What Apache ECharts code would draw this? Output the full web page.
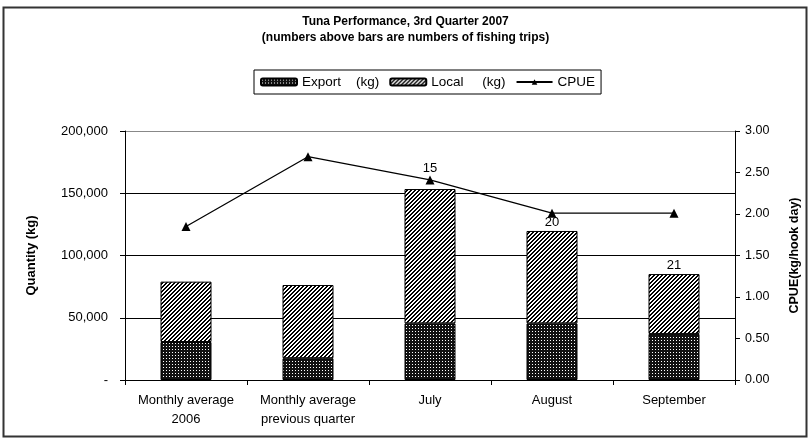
<!DOCTYPE html>
<html><head><meta charset="utf-8">
<script src="https://cdn.jsdelivr.net/npm/echarts@6/dist/echarts.min.js"></script>
<style>html,body{margin:0;padding:0;background:#fff}#c{width:811px;height:442px}</style>
</head><body><div id="c"></div>
<script>
// ---- data ----
const categories = ['Monthly average\n2006', 'Monthly average\nprevious quarter', 'July', 'August', 'September'];
const exportKg = [30500, 17500, 45500, 45500, 37000];
const localKg = [48500, 58800, 107900, 74200, 48100];
const cpue = [1.85, 2.69, 2.41, 2.01, 2.01];
const trips = [null, null, 15, 20, 21];
const leftTickValues = [0, 50000, 100000, 150000, 200000];
const rightTickValues = [0, 0.5, 1, 1.5, 2, 2.5, 3];
const legendNames = ['Export    (kg)', 'Local     (kg)', 'CPUE'];

// ---- patterns ----
function makePattern(w, h, fn) {
  const c = document.createElement('canvas');
  c.width = w; c.height = h;
  const ctx = c.getContext('2d');
  ctx.fillStyle = '#fff'; ctx.fillRect(0, 0, w, h);
  for (let y = 0; y < h; y++) for (let x = 0; x < w; x++) {
    const col = fn(x, y);
    if (col) { ctx.fillStyle = col; ctx.fillRect(x, y, 1, 1); }
  }
  return { image: c, repeat: 'repeat' };
}
const exportPattern = makePattern(3, 3, (x, y) => (x === 1 && y === 1) ? null : '#111');
const localPattern = makePattern(4, 4, (x, y) => ((x + y) % 4 < 2) ? '#000' : null);

const FONT = 'Liberation Sans, Arial, sans-serif';
const labelOffsets = [0, 0, -12, 0, 0];

const chart = echarts.init(document.getElementById('c'), null, { renderer: 'canvas' });
chart.setOption({
  backgroundColor: '#fff',
  animation: false,
  textStyle: { fontFamily: FONT, color: '#000' },
  graphic: [{
    type: 'rect', shape: { x: 3.5, y: 7.5, width: 803, height: 429 },
    style: { fill: 'none', stroke: '#333', lineWidth: 2 }, silent: true, z: -1
  }],
  title: {
    text: 'Tuna Performance, 3rd Quarter 2007\n(numbers above bars are numbers of fishing trips)',
    left: 'center', top: 9,
    textStyle: { fontFamily: FONT, fontWeight: 'bold', fontSize: 12, lineHeight: 16, color: '#000' }
  },
  legend: {
    left: 254, top: 70,
    padding: [5, 6, 5, 6],
    borderColor: '#000', borderWidth: 1,
    itemWidth: 36, itemHeight: 7, itemGap: 10,
    textStyle: { fontFamily: FONT, fontSize: 13.5, color: '#000' },
    data: legendNames
  },
  grid: { left: 125, right: 76, top: 131, bottom: 62, containLabel: false },
  xAxis: {
    type: 'category', data: categories,
    axisLine: { lineStyle: { color: '#000', width: 1 } },
    axisTick: { show: true, interval: 0, length: 5, lineStyle: { color: '#000' } },
    axisLabel: { interval: 0, hideOverlap: false, fontFamily: FONT, fontSize: 13, color: '#000', lineHeight: 19, margin: 11 }
  },
  yAxis: [{
    type: 'value', min: 0, max: 200000, interval: 50000,
    name: 'Quantity (kg)', nameLocation: 'middle', nameGap: 87, nameRotate: 90,
    nameTextStyle: { fontFamily: FONT, fontWeight: 'bold', fontSize: 13, color: '#000' },
    axisLine: { show: true, lineStyle: { color: '#000' } },
    axisTick: { show: true, length: 5, lineStyle: { color: '#000' } },
    axisLabel: {
      fontFamily: FONT, fontSize: 13, color: '#000', margin: 17,
      formatter: v => leftTickValues.includes(v) ? (v === 0 ? '-' : v.toLocaleString('en-US')) : ''
    },
    splitLine: { show: true, lineStyle: { color: ['#000', '#000', '#000', '#000', '#888'], width: 1 } }
  }, {
    type: 'value', min: 0, max: 3, interval: 0.5, position: 'right',
    name: 'CPUE(kg/hook day)', nameLocation: 'middle', nameGap: 53, nameRotate: 90,
    nameTextStyle: { fontFamily: FONT, fontWeight: 'bold', fontSize: 12.5, color: '#000' },
    axisLine: { show: true, lineStyle: { color: '#000' } },
    axisTick: { show: true, length: 5, lineStyle: { color: '#000' } },
    axisLabel: {
      fontFamily: FONT, fontSize: 12.5, color: '#000', margin: 10,
      formatter: v => rightTickValues.includes(v) ? v.toFixed(2) : ''
    },
    splitLine: { show: false }
  }],
  series: [{
    name: legendNames[0], type: 'bar', stack: 'q', yAxisIndex: 0,
    barWidth: 51,
    data: exportKg,
    itemStyle: { color: exportPattern, borderColor: '#000', borderWidth: 1 }
  }, {
    name: legendNames[1], type: 'bar', stack: 'q', yAxisIndex: 0,
    barWidth: 51,
    data: localKg.map((v, i) => ({
      value: v,
      label: {
        show: trips[i] != null,
        position: 'top', distance: 2, offset: [0, labelOffsets[i]],
        formatter: () => String(trips[i]),
        fontFamily: FONT, fontSize: 13, color: '#000'
      }
    })),
    itemStyle: { color: localPattern, borderColor: '#000', borderWidth: 1 }
  }, {
    name: legendNames[2], type: 'line', yAxisIndex: 1,
    data: cpue,
    symbol: 'triangle', symbolSize: 9,
    lineStyle: { color: '#000', width: 1.3 },
    itemStyle: { color: '#000' },
    z: 5
  }]
});
</script>
</body></html>
